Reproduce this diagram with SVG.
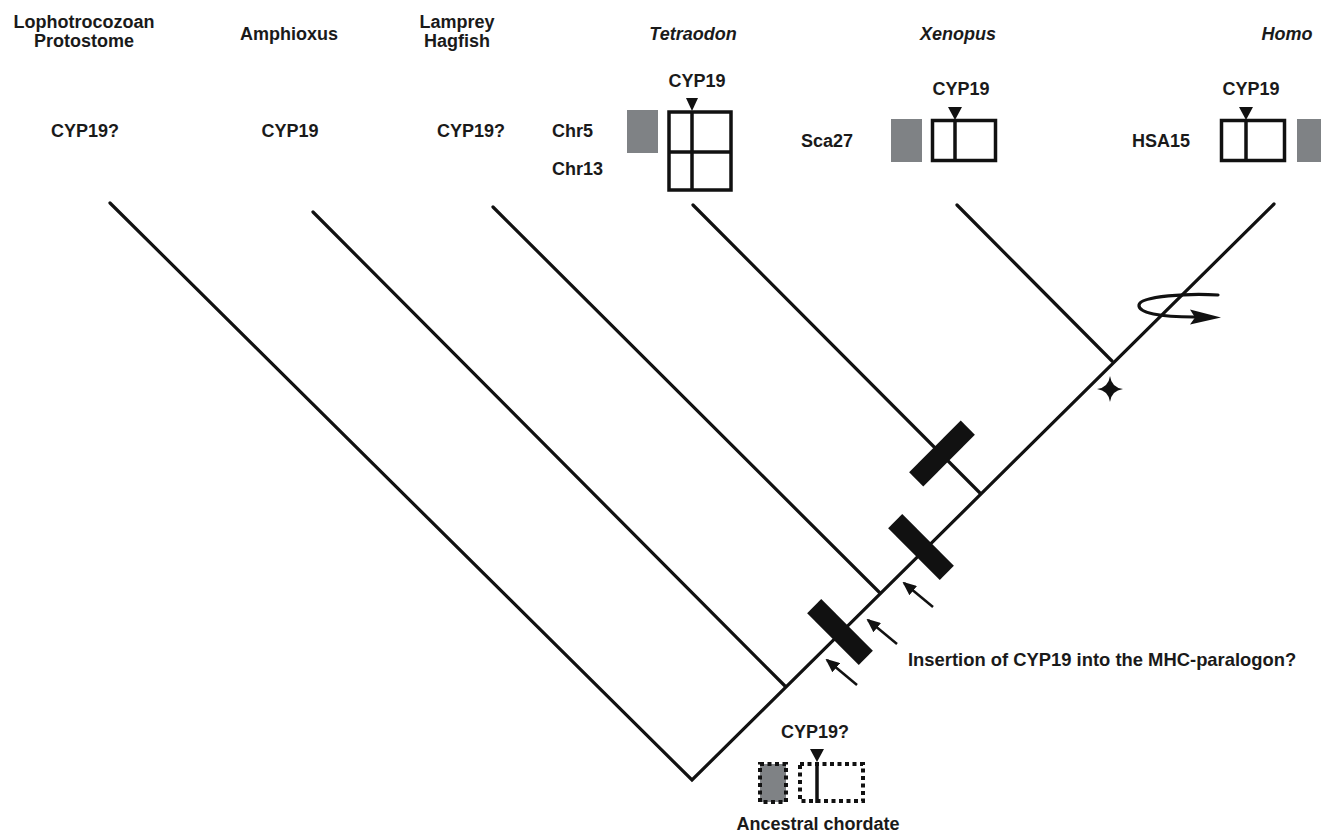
<svg xmlns="http://www.w3.org/2000/svg" width="1321" height="833" viewBox="0 0 1321 833">
<defs>
<style>
text{font-family:"Liberation Sans",Arial,sans-serif;font-weight:bold;font-size:18px;fill:#1a1a1a}
.it{font-style:italic}
.mid{text-anchor:middle}
.br{stroke:#111;stroke-width:3.2;fill:none;stroke-linecap:round}
.box{fill:#fff;stroke:#111;stroke-width:3.5}
.div{stroke:#111;stroke-width:3.5}
.gray{fill:#7f8285}
.tri{fill:#111}
.bar{fill:#111}
.arr{stroke:#111;stroke-width:2.5;fill:none}
.dash{stroke:#111;stroke-width:4;stroke-dasharray:4 3.5;fill:none}
</style>
<marker id="ah" viewBox="0 0 14 12" refX="12" refY="6" markerWidth="14" markerHeight="12" orient="auto" markerUnits="userSpaceOnUse"><path d="M0,0 L14,6 L0,12 z" fill="#111"/></marker>
</defs>
<rect width="1321" height="833" fill="#fff"/>

<g id="labels-top">
<text class="mid" x="84" y="28">Lophotrocozoan</text>
<text class="mid" x="84" y="47">Protostome</text>
<text class="mid" x="289" y="40">Amphioxus</text>
<text class="mid" x="457" y="28">Lamprey</text>
<text class="mid" x="457" y="47">Hagfish</text>
<text class="mid it" x="693" y="40">Tetraodon</text>
<text class="mid it" x="958" y="40">Xenopus</text>
<text class="mid it" x="1287" y="40">Homo</text>
</g>

<g id="node-protostome"><text class="mid" x="85" y="137">CYP19?</text></g>
<g id="node-amphioxus"><text class="mid" x="290" y="137">CYP19</text></g>
<g id="node-lamprey"><text class="mid" x="471" y="137">CYP19?</text></g>

<g id="node-tetraodon">
<text class="mid" x="697" y="87">CYP19</text>
<text x="552" y="137">Chr5</text>
<text x="552" y="175">Chr13</text>
<rect class="gray" x="627" y="110" width="31" height="43"/>
<rect class="box" x="669" y="112" width="62" height="78"/>
<line class="div" x1="692" y1="112" x2="692" y2="190"/>
<line class="div" x1="669" y1="152" x2="731" y2="152"/>
<polygon class="tri" points="686,98 698,98 692,111"/>
</g>

<g id="node-xenopus">
<text class="mid" x="961" y="95">CYP19</text>
<text class="mid" x="827" y="147">Sca27</text>
<rect class="gray" x="891" y="119" width="31" height="43"/>
<rect class="box" x="932.5" y="120.5" width="63" height="40"/>
<line class="div" x1="955" y1="120" x2="955" y2="161"/>
<polygon class="tri" points="948,107 962,107 955,120"/>
</g>

<g id="node-homo">
<text class="mid" x="1251" y="95">CYP19</text>
<text class="mid" x="1161" y="147">HSA15</text>
<rect class="box" x="1221.5" y="120.5" width="63" height="40"/>
<line class="div" x1="1246" y1="120" x2="1246" y2="161"/>
<polygon class="tri" points="1239,107 1253,107 1246,120"/>
<rect class="gray" x="1297" y="119" width="31" height="43"/>
</g>

<g id="node-ancestor">
<text class="mid" x="815" y="738">CYP19?</text>
<rect class="gray" x="760" y="764" width="26" height="38"/>
<rect class="dash" x="760" y="764" width="26" height="38"/>
<rect class="dash" x="800" y="764" width="63" height="37"/>
<line class="div" x1="817" y1="762" x2="817" y2="803"/>
<polygon class="tri" points="810,749 824,749 817,762"/>
<text class="mid" x="818" y="830">Ancestral chordate</text>
</g>

<g id="connectors">
<polyline class="br" points="110,203 692,780 1274,204"/>
<line class="br" x1="313" y1="212" x2="785" y2="686"/>
<line class="br" x1="493" y1="207" x2="880" y2="593"/>
<line class="br" x1="693" y1="205" x2="980" y2="493"/>
<line class="br" x1="957" y1="205" x2="1112" y2="361"/>
</g>

<g id="events">
<rect class="bar" x="803.5" y="622" width="73" height="20" transform="rotate(45 840 632)"/>
<rect class="bar" x="884.5" y="537" width="73" height="20" transform="rotate(45 921 547)"/>
<rect class="bar" x="905.5" y="443.5" width="73" height="20" transform="rotate(-45 942 453.5)"/>
<line class="arr" x1="857" y1="685" x2="827" y2="660" marker-end="url(#ah)"/>
<line class="arr" x1="897" y1="644" x2="868" y2="620" marker-end="url(#ah)"/>
<line class="arr" x1="933" y1="607" x2="904" y2="583" marker-end="url(#ah)"/>
<path d="M1110,376 Q1111.5,387.5 1123,389 Q1111.5,390.5 1110,402 Q1108.5,390.5 1097,389 Q1108.5,387.5 1110,376 Z" fill="#111"/>
<path d="M1218,295 C1190,293 1140,296 1139,305 C1138,313 1160,317 1194,317" class="br"/>
<path d="M1190,309.5 L1221,317.5 L1190,324.5 L1195,317.5 Z" fill="#111"/>
<text x="908" y="666" style="font-size:18.4px">Insertion of CYP19 into the MHC-paralogon?</text>
</g>
</svg>
